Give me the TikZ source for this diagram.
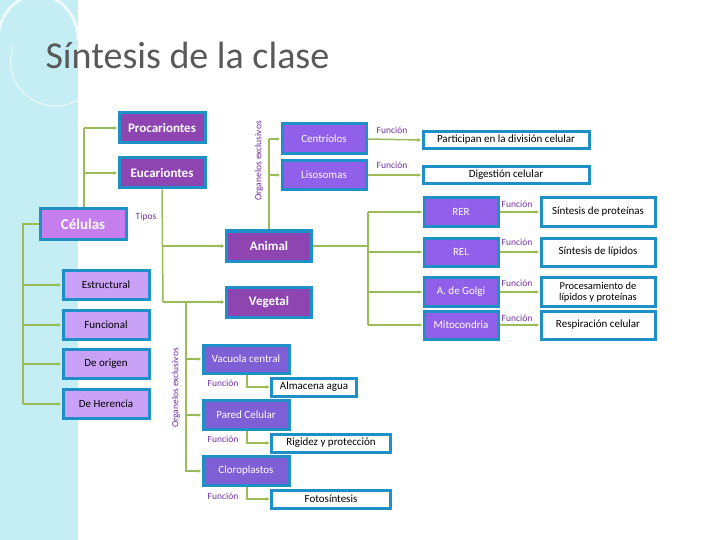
\documentclass[tikz,border=0pt]{standalone}
\usepackage{fontspec}
\setmainfont{Carlito}
\usetikzlibrary{arrows.meta}
\definecolor{bord}{HTML}{1F8FC7}
\definecolor{dpur}{HTML}{8E45B2}
\definecolor{lpur}{HTML}{C67EEE}
\definecolor{ppur}{HTML}{C9A2F7}
\definecolor{vpur}{HTML}{9160EA}
\definecolor{vgpur}{HTML}{7F5FD6}
\definecolor{grn}{HTML}{9BBB59}
\definecolor{ftxt}{HTML}{7030A0}
\definecolor{cyanbg}{HTML}{C4EEF4}
\tikzset{
 bx/.style={draw=bord,line width=3pt,inner sep=1pt,align=center,font=\fontsize{11}{12}\selectfont},
 dbox/.style={bx,fill=dpur,text=white,font=\bfseries\fontsize{13}{14}\selectfont},
 lbox/.style={bx,fill=ppur,text=black},
 vbox/.style={bx,fill=vpur,text=white},
 gbox/.style={bx,fill=vgpur,text=white},
 wbox/.style={bx,fill=white,text=black},
 con/.style={draw=grn,line width=1.5pt,-{Latex[length=4pt,width=4pt]}},
 ln/.style={draw=grn,line width=1.5pt},
 flab/.style={text=ftxt,font=\fontsize{9.5}{10}\selectfont,inner sep=0pt},
}
\begin{document}
\begin{tikzpicture}[x=1pt,y=-1pt]
\useasboundingbox (0,0) rectangle (720,540);
\fill[cyanbg] (0,0) rectangle (78,540);
\draw[white,line width=3pt,opacity=0.7] (78,40) arc (0:-180:40 and 45);
\draw[white,line width=1pt,opacity=0.7] (78,100) arc (60:200:45);
\node[anchor=west,text=black!65,font=\fontsize{38}{40}\selectfont] (title) at (42,55) {Síntesis de la clase};
% left
\node[dbox,minimum width=86pt,minimum height=30pt] (proc) at (162,128) {Procariontes};
\node[dbox,minimum width=86pt,minimum height=30pt] (euc) at (162,173) {Eucariontes};
\node[bx,fill=lpur,text=white,font=\bfseries\fontsize{15}{16}\selectfont,minimum width=86pt,minimum height=30pt] (cel) at (83,224) {Células};
\node[flab] (tipos) at (146,217) {Tipos};
\node[lbox,minimum width=86pt,minimum height=29pt] (est) at (106,285) {Estructural};
\node[lbox,minimum width=86pt,minimum height=29pt] (fun) at (106,325) {Funcional};
\node[lbox,minimum width=86pt,minimum height=29pt] (ori) at (106,364) {De origen};
\node[lbox,minimum width=86pt,minimum height=29pt] (her) at (106,404) {De Herencia};
\coordinate (cl) at (23,224);
\draw[ln] (cel.west) -- (cl) -- (23,404);
\draw[con] (23,285) -- (est.west);
\draw[con] (23,325) -- (fun.west);
\draw[con] (23,364) -- (ori.west);
\draw[con] (23,404) -- (her.west);
\draw[ln] (cel.north -| 84,0) -- (84,128);
\draw[con] (84,128) -- (proc.west);
\draw[con] (84,173) -- (euc.west);
% Animal / Vegetal
\node[dbox,minimum width=85pt,minimum height=30pt] (ani) at (269,246) {Animal};
\node[dbox,minimum width=85pt,minimum height=30pt] (veg) at (269,302) {Vegetal};
\draw[ln] (euc.south) -- (163,302);
\draw[con] (163,246) -- (ani.west);
\draw[con] (163,302) -- (veg.west);
% animal organelles
\node[vbox,minimum width=84pt,minimum height=30pt] (cen) at (324,139) {Centríolos};
\node[vbox,minimum width=84pt,minimum height=29pt] (lis) at (324,175) {Lisosomas};
\draw[ln] (ani.north) -- (269,139);
\draw[con] (269,139) -- (cen.west);
\draw[con] (269,175) -- (lis.west);
\node[flab,rotate=90] (org1) at (259,161) {Organelos exclusivos};
\node[wbox,minimum width=166pt,minimum height=17pt] (part) at (506,140) {Participan en la división celular};
\node[wbox,minimum width=166pt,minimum height=17pt] (dig) at (506,175) {Digestión celular};
\draw[con] (cen.east) -- (part.west);
\draw[con] (lis.east) -- (dig.west);
\node[flab] (f1) at (392,130) {Función};
\node[flab] (f2) at (392,165) {Función};
% animal organelles 2
\node[vbox,minimum width=74pt,minimum height=29pt] (rer) at (461,212) {RER};
\node[vbox,minimum width=74pt,minimum height=28pt] (rel) at (461,252) {REL};
\node[vbox,minimum width=74pt,minimum height=29pt] (gol) at (461,292) {A. de Golgi};
\node[vbox,minimum width=74pt,minimum height=28pt] (mit) at (461,325) {Mitocondria};
\draw[ln] (ani.east) -- (368,246);
\draw[ln] (368,212) -- (368,325);
\draw[con] (368,212) -- (rer.west);
\draw[con] (368,252) -- (rel.west);
\draw[con] (368,292) -- (gol.west);
\draw[con] (368,325) -- (mit.west);
\node[wbox,minimum width=114pt,minimum height=29pt] (sp) at (598,212) {Síntesis de proteínas};
\node[wbox,minimum width=114pt,minimum height=28pt] (sl) at (598,252) {Síntesis de lípidos};
\node[wbox,minimum width=114pt,minimum height=29pt,font=\fontsize{10.5}{11}\selectfont] (pr) at (598,292) {Procesamiento de\\lípidos y proteínas};
\node[wbox,minimum width=114pt,minimum height=28pt] (rc) at (598,325) {Respiración celular};
\draw[con] (rer.east) -- (sp.west);
\draw[con] (rel.east) -- (sl.west);
\draw[con] (gol.east) -- (pr.west);
\draw[con] (mit.east) -- (rc.west);
\node[flab] (f3) at (517,204) {Función};
\node[flab] (f4) at (517,242) {Función};
\node[flab] (f5) at (517,283) {Función};
\node[flab] (f6) at (517,318) {Función};
% vegetal organelles
\draw[ln] (163,302) -- (186,302) -- (186,472);
\node[flab,rotate=90] (org2) at (176,388) {Organelos exclusivos};
\node[gbox,minimum width=86pt,minimum height=28pt] (vac) at (246,359) {Vacuola central};
\node[gbox,minimum width=86pt,minimum height=29pt] (par) at (246,415) {Pared Celular};
\node[gbox,minimum width=86pt,minimum height=29pt] (clo) at (246,471) {Cloroplastos};
\draw[con] (186,359) -- (vac.west);
\draw[con] (186,415) -- (par.west);
\draw[con] (186,471) -- (clo.west);
\node[wbox,minimum width=85pt,minimum height=18pt] (alm) at (314,387) {Almacena agua};
\node[wbox,minimum width=119pt,minimum height=18pt] (rig) at (331,443) {Rigidez y protección};
\node[wbox,minimum width=119pt,minimum height=18pt] (fot) at (331,499) {Fotosíntesis};
\draw[con] (vac.south -| 247,0) |- (alm.west);
\draw[con] (par.south -| 247,0) |- (rig.west);
\draw[con] (clo.south -| 247,0) |- (fot.west);
\node[flab] (f7) at (223,383) {Función};
\node[flab] (f8) at (223,439) {Función};
\node[flab] (f9) at (223,496) {Función};
\end{tikzpicture}
\end{document}
